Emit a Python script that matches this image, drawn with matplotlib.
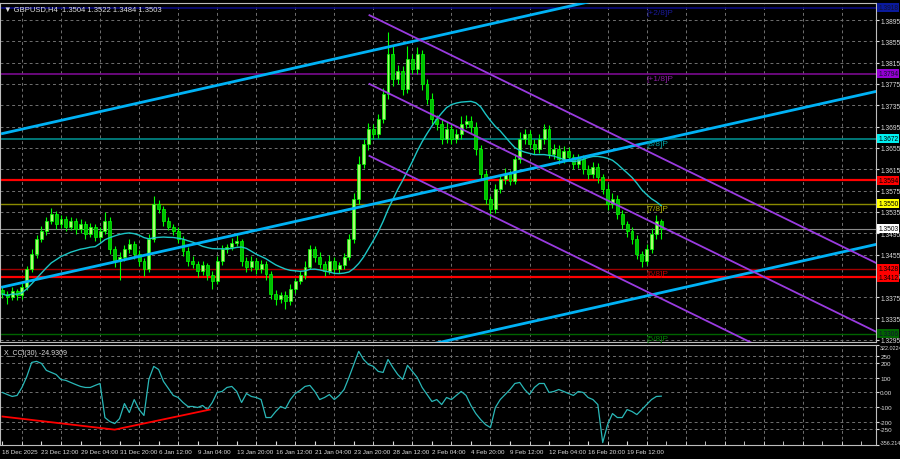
import numpy as np
import pandas as pd
import matplotlib
matplotlib.use("Agg")
import matplotlib.pyplot as plt
import matplotlib.transforms as mtransforms

# ---- data (GBPUSD H4, drawn as 2-bar candles) ----
closes = [
    1.3381, 1.3375, 1.3387, 1.3379, 1.3394, 1.3428, 1.3456, 1.3484, 1.3499, 1.3518,
    1.3531, 1.3512, 1.3522, 1.3507, 1.3518, 1.3503, 1.3512, 1.3494, 1.3507, 1.3488,
    1.3499, 1.3518, 1.3465, 1.3443, 1.3450, 1.3465, 1.3475, 1.3456, 1.3443, 1.3428,
    1.3484, 1.3550, 1.3540, 1.3518, 1.3507, 1.3499, 1.3484, 1.3462, 1.3443, 1.3437,
    1.3424, 1.3435, 1.3417, 1.3405, 1.3443, 1.3465, 1.3469, 1.3477, 1.3480, 1.3443,
    1.3432, 1.3443, 1.3428, 1.3437, 1.3419, 1.3381, 1.3372, 1.3379, 1.3368, 1.3390,
    1.3405, 1.3417, 1.3432, 1.3465, 1.3450, 1.3437, 1.3424, 1.3443, 1.3428, 1.3435,
    1.3450, 1.3484, 1.3559, 1.3625, 1.3662, 1.3691, 1.3681, 1.3709, 1.3756, 1.3831,
    1.3784, 1.3799, 1.3766, 1.3822, 1.3803, 1.3831, 1.3775, 1.3747, 1.3709, 1.3700,
    1.3672, 1.3691, 1.3672, 1.3681, 1.3700, 1.3706, 1.3694, 1.3653, 1.3606, 1.3559,
    1.3540, 1.3578, 1.3597, 1.3606, 1.3593, 1.3634, 1.3672, 1.3681, 1.3662, 1.3653,
    1.3672, 1.3691, 1.3644, 1.3653, 1.3634, 1.3649, 1.3638, 1.3625, 1.3634, 1.3616,
    1.3606, 1.3619, 1.3600, 1.3578, 1.3550, 1.3559, 1.3531, 1.3512, 1.3499, 1.3484,
    1.3456, 1.3443, 1.3465, 1.3494, 1.3518, 1.3503,
]
first_open = 1.3388
# wick lengths in pips above / below the body
wick_up = [
    6, 5, 7, 4, 8, 6, 9, 7, 10, 8, 12, 6, 8, 5, 7, 6, 9, 5, 8, 6,
    7, 17, 8, 6, 9, 7, 10, 6, 8, 5, 9, 15, 8, 6, 7, 5, 8, 6, 7, 9,
    6, 8, 5, 7, 10, 8, 6, 9, 12, 5, 7, 9, 6, 8, 5, 6, 7, 5, 8, 9,
    6, 7, 10, 8, 6, 9, 5, 11, 7, 6, 8, 10, 12, 14, 9, 11, 8, 10, 12, 41,
    15, 12, 9, 24, 10, 14, 8, 9, 11, 7, 10, 12, 8, 9, 14, 10, 8, 9, 7, 8,
    6, 9, 8, 11, 7, 10, 12, 9, 8, 10, 9, 9, 7, 10, 8, 9, 7, 6, 9, 8,
    7, 10, 8, 6, 9, 12, 7, 8, 6, 7, 8, 6, 9, 10, 12, 4,
]
wick_dn = [
    8, 12, 6, 9, 7, 5, 6, 8, 5, 7, 6, 9, 7, 8, 6, 10, 7, 9, 6, 8,
    7, 5, 9, 11, 35, 8, 7, 9, 10, 14, 6, 5, 8, 9, 6, 8, 7, 10, 9, 8,
    11, 7, 9, 15, 6, 8, 7, 5, 6, 10, 9, 7, 10, 8, 12, 9, 11, 8, 16, 7,
    8, 6, 7, 5, 9, 8, 10, 6, 9, 8, 7, 6, 8, 9, 7, 10, 9, 8, 7, 9,
    12, 10, 11, 8, 9, 10, 12, 9, 10, 11, 9, 8, 10, 7, 9, 8, 11, 12, 10, 9,
    15, 8, 7, 9, 8, 6, 7, 9, 8, 10, 7, 9, 8, 9, 10, 7, 8, 9, 7, 10,
    9, 8, 10, 9, 12, 8, 10, 9, 11, 10, 9, 11, 8, 7, 9, 19,
]
cci = [
    0, -14, -27, -20, 34, 109, 204, 211, 197, 150,
    136, 122, 88, 82, 68, 54, 41, 34, 34, 48,
    61, -170, -197, -211, -177, -75, -136, -48, -116, -156,
    88, 177, 156, 75, 27, -20, -34, -68, -95, -95,
    -102, -88, -116, -68, 0, 7, 34, 41, 7, -68,
    -7, -27, -34, -48, -170, -170, -129, -95, -109, -48,
    -7, 14, 41, 48, 7, -48, -34, -14, -48, -20,
    20, 102, 190, 279, 224, 190, 177, 143, 136, 224,
    170, 122, 88, 184, 143, 102, 34, -14, -61, -48,
    -82, -34, -48, -20, 7, -20, -88, -143, -184, -218,
    -238, -102, -48, -14, 20, 61, 68, 20, -14, 34,
    61, 61, 0, 7, 20, 7, -7, -20, 7, 0,
    -34, -48, -82, -340, -218, -143, -170, -170, -116, -129,
    -150, -116, -82, -48, -27, -25,
]
cci_div_bars = [0, 46, 85]
cci_div_vals = [-163, -252, -116]

# horizontal levels: value, line colour, box colour
levels = [1.3918, 1.3794, 1.3672, 1.3594, 1.3550, 1.3503, 1.3428, 1.3412, 1.3306]
level_line = ["#0a0a80", "#7a0a8f", "#008b8b", "#ff0000", "#8b8b00", "#8a8a8a", "#a00000", "#ff0000", "#006400"]
level_box = ["#0a1a9c", "#9400d3", "#00f0f0", "#ff0000", "#ffff00", "#ffffff", "#ff0000", "#ff0000", "#006400"]
level_lw = [1.2, 1.2, 1.2, 1.6, 1.0, 0.8, 1.0, 1.6, 1.0]

murray_labels = ["[+2/8]P", "[+1/8]P", "[8/8]P", "[7/8]P", "[6/8]P", "[5/8]P"]
murray_levels = [1.3918, 1.3794, 1.3672, 1.3550, 1.3428, 1.3306]
murray_colors = ["#1a1a9a", "#8a1aa0", "#00a0a0", "#b0b000", "#c00000", "#008000"]

# trend lines: (bar0, price0, bar1, price1)
blue_lines = [(0, 1.3682, 359, 1.4051), (0, 1.3394, 359, 1.3762), (0, 1.3106, 359, 1.3475)]
purple_lines = [(150.4, 1.3904, 359, 1.3437), (150.4, 1.3775, 359, 1.3308), (150.4, 1.3640, 359, 1.3173)]

date_labels = ["18 Dec 2025", "23 Dec 12:00", "29 Dec 04:00", "31 Dec 20:00", "6 Jan 12:00",
               "9 Jan 04:00", "13 Jan 20:00", "16 Jan 12:00", "21 Jan 04:00", "23 Jan 20:00",
               "28 Jan 12:00", "2 Feb 04:00", "4 Feb 20:00", "9 Feb 12:00", "12 Feb 04:00",
               "16 Feb 20:00", "19 Feb 12:00"]
price_ticks = [1.3295 + 0.004 * k for k in range(16)]
cci_ticks = [322.0224, 250, 200, 100, 0, -100, -200, -250, -356.214]
cci_tick_labels = ["322.0224", "250", "200", "100", "0.00", "-100", "-200", "-250", "-356.214"]

# ---- figure ----
plt.rcParams["font.family"] = ["Liberation Sans", "DejaVu Sans"]
txt = "#dcdcdc"
grid_c = "#707070"
fig = plt.figure(figsize=(9, 4.6), dpi=100, facecolor="black")
ax = fig.add_axes([0.0, 1 - 343 / 460, 876 / 900, 339 / 460], facecolor="black")
axc = fig.add_axes([0.0, 1 - 446 / 460, 876 / 900, 100 / 460], facecolor="black")

n = len(closes)
xs = np.arange(n) * 2
opens = np.array([first_open] + closes[:-1])
cl = np.array(closes)
hi = np.maximum(opens, cl) + np.array(wick_up) * 1e-4
lo = np.minimum(opens, cl) - np.array(wick_dn) * 1e-4

for a in (ax, axc):
    a.set_xlim(-1, 358)
    for s in a.spines.values():
        s.set_color("#bdbdbd")
        s.set_linewidth(0.8)
    for gx in np.arange(8, 360, 16):
        a.axvline(gx, color=grid_c, lw=0.7, ls=(0, (3, 3)), zorder=0)

ax.set_ylim(1.32909, 1.39269)

# levels
for v, lc, lw in zip(levels, level_line, level_lw):
    ax.axhline(v, color=lc, lw=lw, zorder=1)

# candles
up = cl >= opens
ax.vlines(xs, lo, hi, color="#00ff00", lw=0.8, zorder=3)
body_h = np.maximum(np.abs(cl - opens), 0.00008)
ax.bar(xs[up], body_h[up], bottom=opens[up], width=1.2, color="#a8ff70",
       edgecolor="#00ff00", lw=0.5, zorder=4)
ax.bar(xs[~up], body_h[~up], bottom=cl[~up], width=1.2, color="#00c000",
       edgecolor="#00ff00", lw=0.5, zorder=4)

# moving average
ma = pd.Series(closes).rolling(20, min_periods=1).mean()
ax.plot(xs, ma, color="#1cc6c6", lw=1.0, zorder=5)

# trend / channel lines
for b0, p0, b1, p1 in blue_lines:
    ax.plot([b0, b1], [p0, p1], color="#00b2f5", lw=2.0, zorder=6)
for b0, p0, b1, p1 in purple_lines:
    ax.plot([b0, b1], [p0, p1], color="#9a3be0", lw=1.3, zorder=6)

for lab, v, c in zip(murray_labels, murray_levels, murray_colors):
    ax.annotate(lab, (264, v), xytext=(0, -1), textcoords="offset points",
                color=c, fontsize=6, va="top", ha="left", zorder=7)

# right axis
ax.yaxis.tick_right()
ax.set_yticks(price_ticks)
ax.set_yticklabels([f"{t:.4f}" for t in price_ticks])
ax.tick_params(axis="y", colors=txt, labelsize=4.8, length=2, pad=1)
ax.tick_params(axis="x", bottom=False, labelbottom=False)
ax.grid(axis="y", color=grid_c, lw=0.7, ls=(0, (3, 3)))
ax.set_axisbelow(True)

trans = mtransforms.blended_transform_factory(ax.transAxes, ax.transData)
for v, bc in zip(levels, level_box):
    tc = "#101030" if bc in ("#0a1a9c", "#006400", "#9400d3") else "#000000"
    ax.text(1.0025, v, f"{v:.4f}", transform=trans, fontsize=4.8, color=tc,
            ha="left", va="center", clip_on=False, zorder=10,
            bbox=dict(boxstyle="square,pad=0.15", fc=bc, ec="none"))

ax.text(0.005, 0.993, "\u25bc GBPUSD,H4  1.3504 1.3522 1.3484 1.3503", transform=ax.transAxes,
        color=txt, fontsize=5.5, va="top", ha="left", zorder=10)

# CCI panel
axc.set_ylim(-356.214, 322.0224)
axc.plot(xs, cci, color="#2ab8b8", lw=0.9, zorder=3)
axc.plot(cci_div_bars, cci_div_vals, color="#ff0000", lw=1.3, zorder=4)
axc.yaxis.tick_right()
axc.set_yticks(cci_ticks)
axc.set_yticklabels(cci_tick_labels)
axc.tick_params(axis="y", colors=txt, labelsize=4.5, length=2, pad=1)
ylabs = axc.get_yticklabels()
ylabs[0].set_fontsize(3.9)
ylabs[0].set_va("top")
ylabs[-1].set_fontsize(3.9)
ylabs[-1].set_va("bottom")
for gy in [250, 200, 100, 0, -100, -200, -250]:
    axc.axhline(gy, color=grid_c, lw=0.7, ls=(0, (3, 3)), zorder=0)
axc.text(0.005, 0.96, "X_CCI(30) -24.9309", transform=axc.transAxes, color=txt,
         fontsize=5, va="top", ha="left")

axc.set_xticks(np.arange(0, 257, 16))
axc.set_xticklabels(date_labels)
axc.set_xticks(np.arange(0, 360, 8), minor=True)
axc.tick_params(axis="x", which="both", colors=txt, labelsize=4.5, direction="in",
                length=3, pad=3)
for t in axc.get_xticklabels():
    t.set_ha("left")

fig.savefig("out.png", dpi=100, facecolor="black")
